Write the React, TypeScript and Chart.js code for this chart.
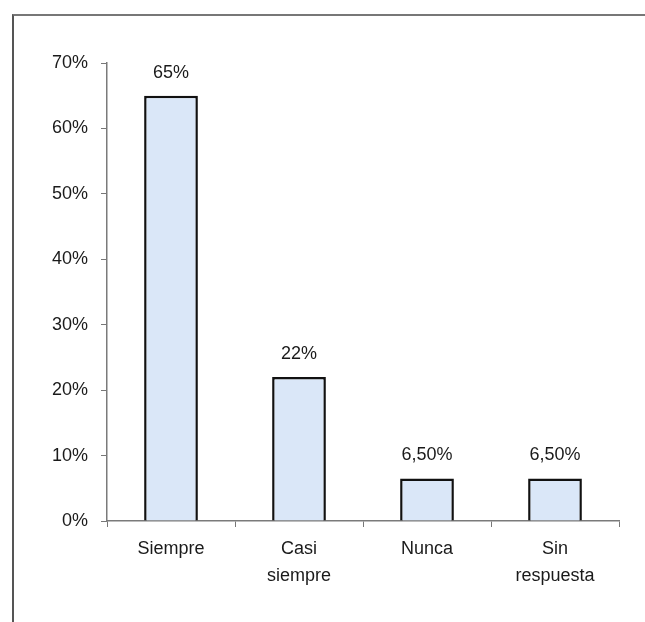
import React, { useEffect, useRef } from "react";
import { Chart, registerables } from "chart.js";

Chart.register(...registerables);

const categories: (string | string[])[] = ["Siempre", ["Casi", "siempre"], "Nunca", ["Sin", "respuesta"]];
const values: number[] = [65, 22, 6.5, 6.5];
const valueLabels: string[] = ["65%", "22%", "6,50%", "6,50%"];
const yTicks: number[] = [0, 10, 20, 30, 40, 50, 60, 70];

const FONT = "'Liberation Sans', Arial, sans-serif";

const valueLabelPlugin = {
  id: "valueLabels",
  afterDatasetsDraw(chart: any) {
    const ctx = chart.ctx;
    const meta = chart.getDatasetMeta(0);
    ctx.save();
    ctx.font = `18px ${FONT}`;
    ctx.fillStyle = "#1a1a1a";
    ctx.textAlign = "center";
    ctx.textBaseline = "middle";
    meta.data.forEach((bar: any, i: number) => {
      ctx.fillText(valueLabels[i], bar.x, bar.y - 23);
    });
    ctx.restore();
  },
};

export default function App() {
  const ref = useRef<HTMLCanvasElement>(null);
  useEffect(() => {
    if (!ref.current) return;
    const chart = new Chart(ref.current, {
      type: "bar",
      data: {
        labels: categories,
        datasets: [
          {
            data: values,
            backgroundColor: "#dae7f8",
            borderColor: "#111",
            borderWidth: 2.5,
            barPercentage: 0.42,
            categoryPercentage: 1,
          },
        ],
      },
      options: {
        animation: false,
        responsive: false,
        maintainAspectRatio: false,
        layout: { padding: { top: 63, right: 26, left: 0, bottom: 0 } },
        plugins: { legend: { display: false }, tooltip: { enabled: false } },
        scales: {
          x: {
            afterFit: (s: any) => {
              s.height = 101;
            },
            grid: {
              drawOnChartArea: false,
              drawTicks: true,
              tickLength: 6,
              tickColor: "#777",
              offset: true,
            },
            border: { color: "#7a7a7a", width: 1.5 },
            ticks: {
              color: "#1a1a1a",
              padding: 9,
              font: { family: FONT, size: 18, lineHeight: 1.5 },
              maxRotation: 0,
              autoSkip: false,
            },
          },
          y: {
            min: 0,
            max: 70,
            afterFit: (s: any) => {
              s.width = 107;
            },
            afterBuildTicks: (s: any) => {
              s.ticks = yTicks.map((v) => ({ value: v }));
            },
            grid: {
              drawOnChartArea: false,
              drawTicks: true,
              tickLength: 6,
              tickColor: "#777",
            },
            border: { color: "#7a7a7a", width: 1.5 },
            ticks: {
              color: "#1a1a1a",
              padding: 13,
              font: { family: FONT, size: 18 },
              callback: (v: any) => `${v}%`,
            },
          },
        },
      },
      plugins: [valueLabelPlugin],
    });
    return () => chart.destroy();
  }, []);

  return (
    <div
      style={{
        position: "fixed",
        left: 0,
        top: 0,
        width: 645,
        height: 622,
        background: "#fff",
        overflow: "hidden",
      }}
    >
      <div
        style={{
          position: "absolute",
          left: 12,
          top: 14,
          width: 645,
          height: 700,
          borderLeft: "2px solid #555",
          borderTop: "2px solid #777",
        }}
      />
      <canvas
        ref={ref}
        width={645}
        height={622}
        style={{ position: "absolute", left: 0, top: 0, width: 645, height: 622 }}
      />
    </div>
  );
}
